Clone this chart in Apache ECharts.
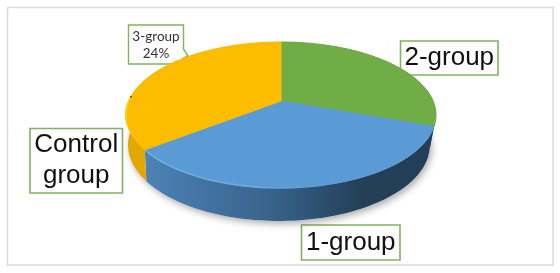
<!DOCTYPE html>
<html><head><meta charset="utf-8">
<style>html,body{margin:0;padding:0;background:#fff}#c{width:560px;height:273px}</style>
<script src="https://cdn.jsdelivr.net/npm/echarts@6/dist/echarts.min.js"></script>
</head><body><div id="c"></div>
<script>
// Slices, clockwise from 12 o'clock
var categories = ['2-group', '1-group', 'Control group', '3-group'];
var values = [30.5, 34, 11.5, 24];
var topColors = ['#70ad47', '#5b9bd5', '#fcbd00', '#fcbd00'];
var total = values.reduce(function (a, b) { return a + b; }, 0);

// Perspective disk geometry
var geo = { cx: 281, cy: 115, rx: 155, ry: 73, apexY: 101, bcx: 279, bcy: 145, brx: 151, bry: 76 };
var k = Math.sqrt((1 + (geo.cy - geo.apexY) / geo.ry) / (1 - (geo.cy - geo.apexY) / geo.ry));

function param(v) { // share of total -> ellipse parameter with perspective
  var h = v / total * Math.PI;
  return 2 * Math.atan2(Math.sin(h), k * Math.cos(h));
}
function topPt(t) { return [geo.cx + geo.rx * Math.sin(t), geo.cy - geo.ry * Math.cos(t)]; }
function botPt(t) { return [geo.bcx + geo.brx * Math.sin(t), geo.bcy - geo.bry * Math.cos(t)]; }
function startOf(i) { var s = 0; for (var j = 0; j < i; j++) s += values[j]; return s; }
function arc(fn, v0, v1) {
  var pts = [], n = 80;
  for (var i = 0; i <= n; i++) pts.push(fn(param(v0 + (v1 - v0) * i / n)));
  return pts;
}
function grad(x, x2, stops) {
  return { type: 'linear', x: x, y: 0, x2: x2, y2: 0, global: true,
    colorStops: stops.map(function (s) { return { offset: s[0], color: s[1] }; }) };
}
var sideFill = [
  '#3f6a28',
  grad(145, 400, [[0, '#4c82b6'], [0.5, '#38628a'], [0.85, '#234058'], [1, '#233f57']]),
  '#e2a700',
  '#e2a700'
];

function sidePoly(i) {
  var a = startOf(i), b = a + values[i];
  return arc(topPt, a, b).concat(arc(botPt, a, b).reverse());
}
function shadowItem(params) {
  var i = params.dataIndex;
  return { type: 'polygon', shape: { points: arc(botPt, startOf(i), startOf(i) + values[i]).concat([[geo.bcx, geo.bcy]]) },
    style: { fill: '#fff', shadowBlur: 7, shadowColor: 'rgba(0,0,0,0.32)', shadowOffsetX: 2, shadowOffsetY: 3 } };
}
function sideItem(params) {
  var i = params.dataIndex;
  return { type: 'polygon', shape: { points: sidePoly(i) }, style: { fill: sideFill[i] } };
}
function topItem(params) {
  var i = params.dataIndex, a = startOf(i), b = a + values[i];
  var kids = [{ type: 'polygon',
    shape: { points: [[geo.cx, geo.apexY]].concat(arc(topPt, a, b)) },
    style: { fill: topColors[i], stroke: topColors[i], lineWidth: 1 } }];
  if (i === 1) kids.push({ type: 'polyline', shape: { points: arc(topPt, a + values[1] * 0.3, b) },
    style: { fill: null, lineWidth: 1.6, stroke: grad(145, 330, [[0, 'rgba(120,175,225,0.9)'], [0.6, 'rgba(110,170,225,0.9)'], [1, 'rgba(90,155,213,0)']]) } });
  if (i === 2) kids.push({ type: 'polyline', shape: { points: arc(topPt, a + values[2] * 0.45, b) },
    style: { fill: null, lineWidth: 1.8, stroke: '#ffd000' } });
  if (i === 3) {
    var p = topPt(param(a));
    kids.push({ type: 'circle', shape: { cx: p[0], cy: p[1], r: 0.9 }, style: { fill: '#4a3a10' } });
  }
  return { type: 'group', children: kids };
}
function rows() { return categories.map(function (c, i) { return { name: c, value: values[i] }; }); }

var GREEN = '#7db560';
function box(x, y, w, h, lines, size, lh, font, color) {
  var kids = [{ type: 'rect', shape: { x: x, y: y, width: w, height: h },
    style: { fill: '#fff', stroke: GREEN, lineWidth: 1.6 } }];
  lines.forEach(function (t, i) {
    kids.push({ type: 'text', style: { x: x + w / 2, y: y + h / 2 + (i - (lines.length - 1) / 2) * lh,
      text: t, align: 'center', verticalAlign: 'middle', fontSize: size, fontFamily: font, fill: color } });
  });
  return { type: 'group', z: 20, children: kids };
}
var ARIAL = '"Liberation Sans", Arial, sans-serif';
var label2 = [categories[0]], label1 = [categories[1]], labelC = categories[2].split(' ');
var label3 = [categories[3], '24%'];

var chart = echarts.init(document.getElementById('c'), null, { renderer: 'canvas' });
chart.setOption({
  animation: false,
  backgroundColor: '#fff',
  graphic: [
    { type: 'rect', z: 0, shape: { x: 7.5, y: 7.5, width: 545.5, height: 257.5 }, style: { fill: '#fff', stroke: '#d9d9d9', lineWidth: 1.5 } },
    box(400.5, 41, 97.5, 34, label2, 26, 30, ARIAL, '#111'),
    box(301.5, 225, 98.5, 35, label1, 26, 30, ARIAL, '#111'),
    box(30, 128.5, 92.5, 64.5, labelC, 26, 31, ARIAL, '#111'),
    { type: 'group', z: 20, children: [
      { type: 'polygon', shape: { points: [[128.5, 25], [183.5, 25], [183.5, 49], [188, 56], [183.5, 58], [183.5, 64], [128.5, 64]] },
        style: { fill: '#fff', stroke: GREEN, lineWidth: 1.4 } },
      { type: 'text', style: { x: 156, y: 36.5, text: label3[0], align: 'center', verticalAlign: 'middle', fontSize: 13.5, fontFamily: 'Lato, sans-serif', fill: '#333' } },
      { type: 'text', style: { x: 156, y: 53.5, text: label3[1], align: 'center', verticalAlign: 'middle', fontSize: 13.5, fontFamily: 'Lato, sans-serif', fill: '#333' } }
    ] }
  ],
  series: [
    { type: 'custom', coordinateSystem: 'none', z: 2, data: rows(), renderItem: shadowItem, silent: true },
    { type: 'custom', coordinateSystem: 'none', z: 3, data: rows(), renderItem: sideItem, silent: true },
    { type: 'custom', coordinateSystem: 'none', z: 4, data: rows(), renderItem: topItem, silent: true }
  ]
});
</script></body></html>
